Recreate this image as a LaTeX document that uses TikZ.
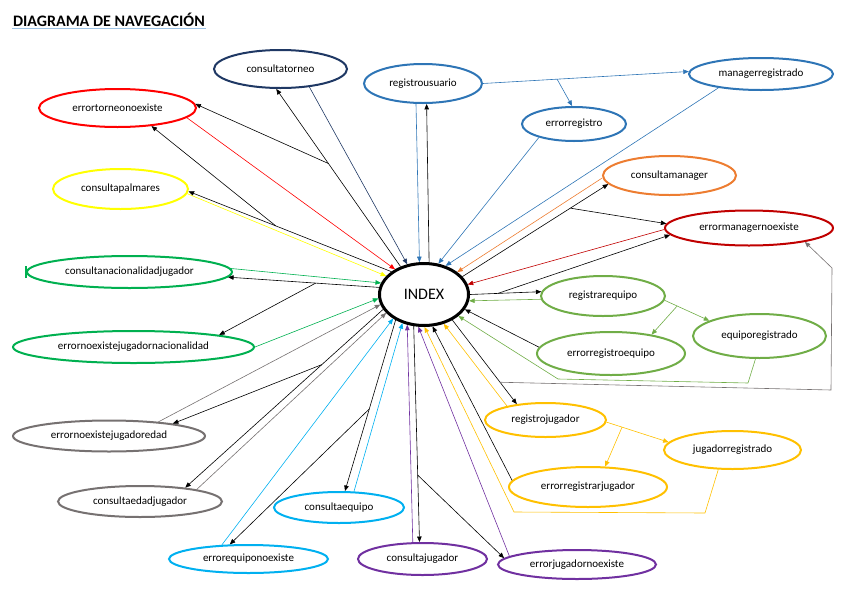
\documentclass[tikz,border=0pt]{standalone}
\usepackage{fontspec}
\setmainfont{Carlito}
\usepackage{tikz}
\usetikzlibrary{shapes.geometric,arrows.meta}
\definecolor{navy}{HTML}{1F3864}
\definecolor{azul}{HTML}{2E75B6}
\definecolor{naranja}{HTML}{ED7D31}
\definecolor{rojooscuro}{HTML}{C00000}
\definecolor{verdeclaro}{HTML}{70AD47}
\definecolor{oro}{HTML}{FFC000}
\definecolor{morado}{HTML}{7030A0}
\definecolor{celeste}{HTML}{00B0F0}
\definecolor{gris}{HTML}{767171}
\definecolor{verde}{HTML}{00B050}
\definecolor{amarillo}{HTML}{FFFF00}
\definecolor{rojo}{HTML}{FF0000}
\definecolor{subr}{HTML}{9DC3E6}
\begin{document}
\begin{tikzpicture}[x=1pt,y=-1pt,every node/.style={ellipse,draw,line width=2pt,inner sep=0pt,font=\fontsize{11}{13}\selectfont}]

\tikzstyle{link}=[line width=0.6pt,-{Triangle[length=5.5pt,width=4.5pt]}]
\tikzstyle{blk}=[link,black]
\useasboundingbox (0,0) rectangle (847,595);

\node [draw=none,rectangle,anchor=base west,font=\bfseries\fontsize{16}{19}\selectfont] (titulo) at (12,26.5) {DIAGRAMA DE NAVEGACIÓN};
\draw [subr,line width=1.6pt] ([yshift=-2pt]titulo.base west) -- ([yshift=-2pt]titulo.base east);

\node [line width=3pt,minimum width=89pt,minimum height=62pt,font=\fontsize{16}{19}\selectfont] (INDEX) at (424,294.5) {INDEX};

\node [navy,text=black,minimum width=133pt,minimum height=38pt] (consultatorneo) at (280.5,69) {consultatorneo};
\node [azul,text=black,minimum width=118pt,minimum height=39pt] (registrousuario) at (423,83.5) {registrousuario};
\node [azul,text=black,minimum width=144pt,minimum height=32pt] (managerregistrado) at (761,74) {managerregistrado};
\node [azul,text=black,minimum width=104pt,minimum height=34pt] (errorregistro) at (574,124) {errorregistro};
\node [naranja,text=black,minimum width=133pt,minimum height=39pt] (consultamanager) at (669.5,175.5) {consultamanager};
\node [rojooscuro,text=black,minimum width=168pt,minimum height=35pt] (errormanagernoexiste) at (749,228) {errormanagernoexiste};
\node [verdeclaro,text=black,minimum width=124pt,minimum height=40pt] (registrarequipo) at (603,296) {registrarequipo};
\node [verdeclaro,text=black,minimum width=133pt,minimum height=44pt] (equiporegistrado) at (759.5,336) {equiporegistrado};
\node [verdeclaro,text=black,minimum width=148pt,minimum height=43pt] (errorregistroequipo) at (611,353.5) {errorregistroequipo};
\node [oro,text=black,minimum width=121pt,minimum height=34pt] (registrojugador) at (545.5,420) {registrojugador};
\node [oro,text=black,minimum width=137pt,minimum height=38pt] (jugadorregistrado) at (732.5,450) {jugadorregistrado};
\node [oro,text=black,minimum width=158pt,minimum height=40pt] (errorregistrarjugador) at (588,487) {errorregistrarjugador};
\node [morado,text=black,minimum width=158pt,minimum height=29pt] (errorjugadornoexiste) at (577,564.5) {errorjugadornoexiste};
\node [morado,text=black,minimum width=129pt,minimum height=32pt] (consultajugador) at (422.5,559) {consultajugador};
\node [celeste,text=black,minimum width=159pt,minimum height=28pt] (errorequiponoexiste) at (248.5,559) {errorequiponoexiste};
\node [celeste,text=black,minimum width=130pt,minimum height=31pt] (consultaequipo) at (339,507.5) {consultaequipo};
\node [gris,text=black,minimum width=164pt,minimum height=31pt] (consultaedadjugador) at (140,501.5) {consultaedadjugador};
\node [gris,text=black,minimum width=192pt,minimum height=31pt] (errornoexistejugadoredad) at (109,436) {errornoexistejugadoredad};
\node [verde,text=black,minimum width=241pt,minimum height=32pt] (errornoexistejugadornacionalidad) at (133.5,347) {errornoexistejugadornacionalidad};
\node [verde,text=black,minimum width=205pt,minimum height=32pt] (consultanacionalidadjugador) at (129.5,272) {consultanacionalidadjugador};
\node [amarillo,text=black,minimum width=135pt,minimum height=40pt] (consultapalmares) at (120.5,189) {consultapalmares};
\node [rojo,text=black,minimum width=157pt,minimum height=38pt] (errortorneonoexiste) at (117.5,108) {errortorneonoexiste};
\draw [verde,line width=1.5pt] ([yshift=-6pt]consultanacionalidadjugador.west) -- ([yshift=6pt]consultanacionalidadjugador.west);

\coordinate (g1) at (831,390);
\coordinate (g2) at (832,268);
\coordinate (e1) at (748,383);
\coordinate (e2) at (558,379);
\coordinate (o1) at (705,513);
\coordinate (o2) at (514,512);

\draw [blk] (INDEX.81) -- (registrousuario.280);
\draw [blk] (INDEX.130) -- coordinate[pos=0.58] (bT1) (consultatorneo.258);
\draw [blk] (bT1) -- (errortorneonoexiste.3);
\draw [blk] (INDEX.145) -- coordinate[pos=0.57] (bT2) (consultapalmares.358);
\draw [blk] (bT2) -- (errortorneonoexiste.332);
\draw [blk] (INDEX.171) -- coordinate[pos=0.42] (bN) (consultanacionalidadjugador.357);
\draw [blk] (bN) -- (errornoexistejugadornacionalidad.8);
\draw [blk] (INDEX.200) -- coordinate[pos=0.31] (bE) (consultaedadjugador.17);
\draw [blk] (bE) -- (errornoexistejugadoredad.11);
\draw [blk] (INDEX.222) -- coordinate[pos=0.52] (bQ) (consultaequipo.70);
\draw [blk] (bQ) -- (errorequiponoexiste.142);
\draw [blk] (INDEX.252) -- coordinate[pos=0.69] (bJ) (consultajugador.100);
\draw [blk] (bJ) -- (errorjugadornoexiste.175);
\draw [blk] (INDEX.318) -- coordinate[pos=0.74] (bG) (registrojugador.151);
\draw [link,gris] (bG) -- (g1) -- (g2) -- (errormanagernoexiste.346);
\draw [blk] (INDEX.25) -- coordinate[pos=0.74] (bM) (consultamanager.188);
\draw [blk] (bM) -- (errormanagernoexiste.177);
\draw [blk] (INDEX.0) -- coordinate[pos=0.39] (bR) (registrarequipo.176);
\draw [blk] (bR) -- (errormanagernoexiste.185);
\draw [blk] (errorregistroequipo.175) -- (INDEX.340);
\draw [blk] (errorregistrarjugador.175) -- (INDEX.285);

\draw [link,rojo] (errortorneonoexiste.352) -- (INDEX.139);
\draw [link,navy] (consultatorneo.328) -- (INDEX.119);
\draw [link,amarillo] (consultapalmares.356) -- (INDEX.154);
\draw [link,verde] (consultanacionalidadjugador.2) -- (INDEX.165);
\draw [link,verde] (errornoexistejugadornacionalidad.0) -- (INDEX.185);
\draw [link,gris] (errornoexistejugadoredad.16) -- (INDEX.193);
\draw [link,gris] (consultaedadjugador.12) -- (INDEX.206);
\draw [link,celeste] (errorequiponoexiste.152) -- (INDEX.218);
\draw [link,celeste] (consultaequipo.47) -- (INDEX.233);
\draw [link,morado] (consultajugador.120) -- (INDEX.241);
\draw [link,morado] (errorjugadornoexiste.173) -- (INDEX.260);
\draw [link,oro] (jugadorregistrado.234) -- (o1) -- (o2) -- (INDEX.271);
\draw [link,oro] (registrojugador.160) -- (INDEX.304);
\draw [link,oro] (registrojugador.358) -- coordinate[pos=0.25] (bRJ) (jugadorregistrado.173);
\draw [link,oro] (bRJ) -- (errorregistrarjugador.50);
\draw [link,verdeclaro] (equiporegistrado.260) -- (e1) -- (e2) -- (INDEX.328);
\draw [link,verdeclaro] (registrarequipo.183) -- (INDEX.352);
\draw [link,verdeclaro] (registrarequipo.356) -- coordinate[pos=0.28] (bRE) (equiporegistrado.163);
\draw [link,verdeclaro] (bRE) -- (errorregistroequipo.25);
\draw [link,rojooscuro] (errormanagernoexiste.181) -- (INDEX.13);
\draw [link,naranja] (consultamanager.182) -- (INDEX.34);
\draw [link,azul] (managerregistrado.198) -- (INDEX.53);
\draw [link,azul] (errorregistro.201) -- (INDEX.65);
\draw [link,azul] (registrousuario.251) -- (INDEX.98);
\draw [link,azul] (registrousuario.0) -- coordinate[pos=0.36] (bU) (managerregistrado.178);
\draw [link,azul] (bU) -- (errorregistro.96);
\end{tikzpicture}
\end{document}
